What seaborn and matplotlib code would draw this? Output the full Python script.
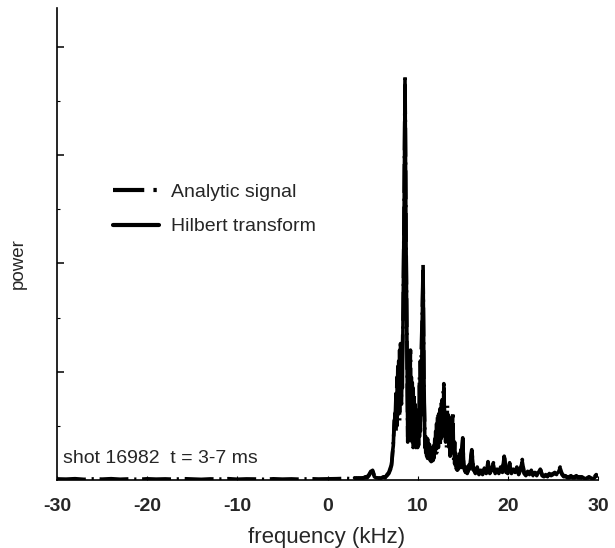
import matplotlib
matplotlib.use("Agg")
import matplotlib.pyplot as plt
import seaborn as sns
import pandas as pd
from matplotlib.lines import Line2D

# ---- data (power in arbitrary units) ----
# negative / low frequencies (flat baseline), 1 kHz grid
freq_low = [-30, -29, -28, -27, -26, -25, -24, -23, -22, -21, -20, -19, -18, -17, -16,
            -15, -14, -13, -12, -11, -10, -9, -8, -7, -6, -5, -4, -3, -2, -1, 0, 1, 2]
analytic_low = [0.01, 0.008, 0.012, 0.006, 0.01, 0.008, 0.012, 0.007, 0.01, 0.006, 0.011,
                0.008, 0.01, 0.007, 0.012, 0.009, 0.006, 0.01, 0.008, 0.012, 0.007, 0.01,
                0.009, 0.006, 0.011, 0.008, 0.01, 0.007, 0.012, 0.009, 0.01, 0.012, 0.015]

# 3.0 - 6.8 kHz, 0.2 kHz grid
freq_a = [3.0, 3.2, 3.4, 3.6, 3.8, 4.0, 4.2, 4.4, 4.6, 4.8,
          5.0, 5.2, 5.4, 5.6, 5.8, 6.0, 6.2, 6.4, 6.6, 6.8]
analytic_a = [0.01, 0.02, 0.01, 0.02, 0.01, 0.02, 0.03, 0.02, 0.04, 0.07,
              0.09, 0.04, 0.02, 0.01, 0.02, 0.01, 0.02, 0.03, 0.04, 0.06]
hilbert_a = [0.02, 0.01, 0.02, 0.01, 0.02, 0.02, 0.02, 0.03, 0.05, 0.08,
             0.08, 0.03, 0.02, 0.02, 0.01, 0.02, 0.03, 0.02, 0.05, 0.07]

# 7.0 - 16.0 kHz, 0.1 kHz grid (main activity)
freq_b = [7.0, 7.1, 7.2, 7.3, 7.4, 7.5, 7.6, 7.7, 7.8, 7.9,
          8.0, 8.1, 8.2, 8.3, 8.4, 8.5, 8.6, 8.7, 8.8, 8.9,
          9.0, 9.1, 9.2, 9.3, 9.4, 9.5, 9.6, 9.7, 9.8, 9.9,
          10.0, 10.1, 10.2, 10.3, 10.4, 10.5, 10.6, 10.7, 10.8, 10.9,
          11.0, 11.1, 11.2, 11.3, 11.4, 11.5, 11.6, 11.7, 11.8, 11.9,
          12.0, 12.1, 12.2, 12.3, 12.4, 12.5, 12.6, 12.7, 12.8, 12.9,
          13.0, 13.1, 13.2, 13.3, 13.4, 13.5, 13.6, 13.7, 13.8, 13.9,
          14.0, 14.1, 14.2, 14.3, 14.4, 14.5, 14.6, 14.7, 14.8, 14.9,
          15.0, 15.1, 15.2, 15.3, 15.4, 15.5, 15.6, 15.7, 15.8, 15.9,
          16.0]
analytic_b = [0.10, 0.15, 0.22, 0.35, 0.50, 0.62, 0.45, 0.95, 0.60, 1.10,
              0.55, 1.26, 0.70, 1.15, 1.60, 2.60, 3.74, 2.40, 1.40, 0.35,
              1.00, 0.40, 1.20, 0.35, 0.90, 0.30, 0.80, 0.32, 0.65, 0.28,
              0.55, 0.32, 0.95, 0.45, 1.20, 1.50, 1.99, 0.80, 0.45, 0.25,
              0.40, 0.20, 0.32, 0.18, 0.30, 0.17, 0.28, 0.18, 0.32, 0.22,
              0.45, 0.25, 0.58, 0.30, 0.62, 0.32, 0.72, 0.40, 0.78, 0.89,
              0.40, 0.65, 0.30, 0.69, 0.32, 0.58, 0.22, 0.52, 0.25, 0.63,
              0.18, 0.35, 0.10, 0.22, 0.09, 0.16, 0.10, 0.25, 0.09, 0.30,
              0.39, 0.13, 0.10, 0.07, 0.12, 0.06, 0.10, 0.15, 0.08, 0.22,
              0.28]
hilbert_b = [0.12, 0.13, 0.25, 0.32, 0.55, 0.55, 0.80, 0.50, 1.05, 0.65,
             1.20, 0.75, 1.15, 0.85, 1.70, 2.50, 3.65, 2.30, 1.30, 0.40,
             0.75, 1.00, 0.45, 0.95, 0.35, 0.85, 0.35, 0.70, 0.30, 0.60,
             0.30, 0.65, 0.40, 1.10, 0.60, 1.45, 1.92, 0.95, 0.30, 0.40,
             0.22, 0.38, 0.20, 0.33, 0.18, 0.30, 0.18, 0.30, 0.20, 0.38,
             0.28, 0.52, 0.30, 0.60, 0.35, 0.66, 0.38, 0.74, 0.45, 0.85,
             0.55, 0.35, 0.62, 0.40, 0.60, 0.30, 0.50, 0.25, 0.55, 0.30,
             0.35, 0.15, 0.25, 0.10, 0.18, 0.10, 0.22, 0.12, 0.28, 0.15,
             0.37, 0.16, 0.09, 0.11, 0.07, 0.11, 0.08, 0.14, 0.11, 0.20,
             0.26]

# 16.2 - 30.0 kHz, 0.2 kHz grid (tail)
freq_c = [16.2, 16.4, 16.6, 16.8, 17.0, 17.2, 17.4, 17.6, 17.8, 18.0,
          18.2, 18.4, 18.6, 18.8, 19.0, 19.2, 19.4, 19.6, 19.8, 20.0,
          20.2, 20.4, 20.6, 20.8, 21.0, 21.2, 21.4, 21.6, 21.8, 22.0,
          22.2, 22.4, 22.6, 22.8, 23.0, 23.2, 23.4, 23.6, 23.8, 24.0,
          24.2, 24.4, 24.6, 24.8, 25.0, 25.2, 25.4, 25.6, 25.8, 26.0,
          26.2, 26.4, 26.6, 26.8, 27.0, 27.2, 27.4, 27.6, 27.8, 28.0,
          28.2, 28.4, 28.6, 28.8, 29.0, 29.2, 29.4, 29.6, 29.8, 30.0]
analytic_c = [0.10, 0.06, 0.12, 0.05, 0.08, 0.06, 0.10, 0.05, 0.17, 0.06,
              0.09, 0.16, 0.05, 0.10, 0.06, 0.12, 0.07, 0.24, 0.08, 0.06,
              0.16, 0.05, 0.10, 0.07, 0.12, 0.05, 0.09, 0.19, 0.06, 0.04,
              0.08, 0.05, 0.09, 0.04, 0.06, 0.05, 0.08, 0.11, 0.04, 0.03,
              0.05, 0.03, 0.06, 0.04, 0.05, 0.07, 0.05, 0.08, 0.12, 0.05,
              0.03, 0.04, 0.02, 0.03, 0.04, 0.02, 0.03, 0.04, 0.02, 0.03,
              0.02, 0.01, 0.02, 0.03, 0.02, 0.01, 0.02, 0.03, 0.05, 0.03]
hilbert_c = [0.09, 0.07, 0.11, 0.06, 0.09, 0.05, 0.11, 0.06, 0.15, 0.07,
             0.10, 0.14, 0.06, 0.09, 0.07, 0.11, 0.08, 0.22, 0.07, 0.07,
             0.15, 0.06, 0.09, 0.08, 0.11, 0.06, 0.10, 0.17, 0.07, 0.05,
             0.07, 0.06, 0.08, 0.05, 0.07, 0.04, 0.07, 0.10, 0.05, 0.04,
             0.04, 0.04, 0.05, 0.05, 0.06, 0.06, 0.06, 0.07, 0.11, 0.06,
             0.04, 0.03, 0.03, 0.02, 0.03, 0.03, 0.02, 0.03, 0.03, 0.02,
             0.03, 0.02, 0.01, 0.02, 0.03, 0.02, 0.01, 0.02, 0.04, 0.04]

x_ticks = [-30, -20, -10, 0, 10, 20, 30]
x_ticklabels = ["-30", "-20", "-10", "0", "10", "20", "30"]
y_major = [1, 2, 3, 4]
y_minor = [0.5, 1.5, 2.5, 3.5]
series_names = ["Analytic signal", "Hilbert transform"]
annotation = "shot 16982  t = 3-7 ms"

freq_ana = freq_low + freq_a + freq_b + freq_c
analytic = analytic_low + analytic_a + analytic_b + analytic_c
freq_hil = freq_a + freq_b + freq_c
hilbert = hilbert_a + hilbert_b + hilbert_c

sns.set_style("ticks")
plt.rcParams["font.family"] = ["Liberation Sans", "DejaVu Sans"]

W, H = 615, 548
fig = plt.figure(figsize=(W / 100, H / 100), dpi=100)
ax = fig.add_axes([57 / W, (H - 480) / H, 541 / W, 472 / H])

df_h = pd.DataFrame({"f": freq_hil, "p": hilbert})
df_a = pd.DataFrame({"f": freq_ana, "p": analytic})
sns.lineplot(data=df_h, x="f", y="p", ax=ax, color="black", lw=2.6,
             estimator=None, sort=False)
sns.lineplot(data=df_a, x="f", y="p", ax=ax, color="black", lw=2.6,
             estimator=None, sort=False, linestyle=(0, (8, 1.6, 0.6, 1.6)))

ax.set_xlim(-30, 30)
ax.set_ylim(0, 4.36)
ax.set_xticks(x_ticks)
ax.set_xticklabels(x_ticklabels, fontweight="bold", fontsize=14)
ax.set_yticks(y_major)
ax.set_yticks(y_minor, minor=True)
ax.set_yticklabels([])
ax.tick_params(axis="y", which="major", direction="in", length=5, width=1.1, color="black")
ax.tick_params(axis="y", which="minor", direction="in", length=2, width=0.8, color="black")
ax.tick_params(axis="x", which="major", direction="in", length=3, width=0.8, pad=13, color="black")
for s in ["top", "right"]:
    ax.spines[s].set_visible(False)
for s in ["left", "bottom"]:
    ax.spines[s].set_color("black")
    ax.spines[s].set_linewidth(1.2)

ax.set_xlabel("")
ax.set_ylabel("")
fig.text(327 / W, (H - 543) / H, "frequency (kHz)", fontsize=16,
         ha="center", va="baseline")
fig.text(18 / W, (H - 264) / H, "power", fontsize=13.5, rotation=90,
         ha="center", va="center")

ax.text(6 / 541, 17 / 472, annotation, transform=ax.transAxes, fontsize=14,
        ha="left", va="baseline")

handles = [Line2D([], [], color="black", lw=3, linestyle=(0, (7.5, 2.2, 0.8, 2.2))),
           Line2D([], [], color="black", lw=3)]
ax.legend(handles, series_names, loc="center left",
          bbox_to_anchor=((105 - 57) / 541, (480 - 209.5) / 472),
          borderaxespad=0, frameon=False, fontsize=14, handlelength=2.4,
          handletextpad=0.6, labelspacing=0.85)

fig.savefig("out.png", dpi=100)
